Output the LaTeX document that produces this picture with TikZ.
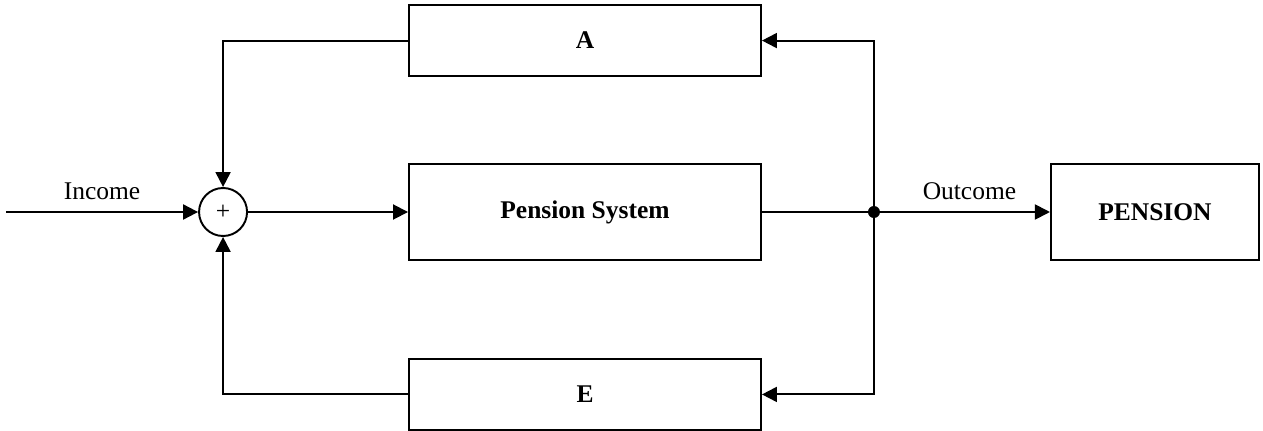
\documentclass[tikz,border=0pt]{standalone}
\usepackage{fontspec}
\setmainfont{Liberation Serif}
\usetikzlibrary{arrows.meta,positioning}

\begin{document}
\begin{tikzpicture}[
  node distance=17.2mm and 32mm,
  font=\fontsize{14.5}{17}\selectfont,
  line width=1.1pt,
  box/.style={draw,minimum width=70.4mm,minimum height=19.2mm,font=\fontsize{14.5}{17}\selectfont\bfseries},
  fbbox/.style={draw,minimum width=70.4mm,minimum height=14.2mm,font=\fontsize{14.5}{17}\selectfont\bfseries},
  sumnode/.style={draw,circle,minimum size=9.6mm,inner sep=0pt},
  arr/.style={-{Triangle[length=3mm,width=3mm]}},
  lbl/.style={above=1mm,midway}
]
  \useasboundingbox (-11.7,-4.36) rectangle (13.56,4.24);

  \node[box] (sys) at (0,0) {Pension System};
  \node[fbbox,above=of sys] (A) {A};
  \node[fbbox,below=19.4mm of sys] (E) {E};
  \node[box,minimum width=41.6mm,right=57.6mm of sys] (pen) {PENSION};
  \node[sumnode,left=of sys] (sum) {+};

  \coordinate[left=38.4mm of sum] (in);
  \coordinate[right=22.4mm of sys] (split);

  \draw[arr] (in) -- node[lbl]{Income} (sum);
  \draw[arr] (sum) -- (sys);
  \draw (sys) -- (split);
  \draw[arr] (split) -- node[lbl,xshift=1.5mm]{Outcome} (pen);
  \fill (split) circle (1.2mm);

  % feedback paths
  \draw[arr] (split) |- (A);
  \draw[arr] (split) |- (E);
  \draw[arr] (A) -| (sum);
  \draw[arr] (E) -| (sum);
\end{tikzpicture}
\end{document}
